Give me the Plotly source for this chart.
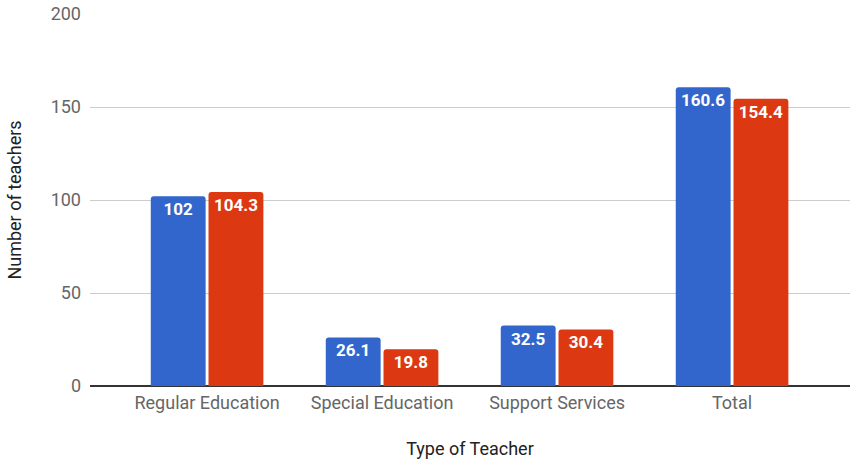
import plotly.graph_objects as go

categories = ["Regular Education", "Special Education", "Support Services", "Total"]
series_a = [102, 26.1, 32.5, 160.6]
series_b = [104.3, 19.8, 30.4, 154.4]
y_ticks = [0, 50, 100, 150, 200]

fig = go.Figure()
for vals, color in [(series_a, "#3366cc"), (series_b, "#dc3912")]:
    fig.add_trace(go.Bar(
        x=categories, y=vals, marker=dict(color=color, line=dict(width=0)),
        text=[f"{v:g}" for v in vals], textposition="inside", insidetextanchor="end",
        textangle=0, textfont=dict(color="white", size=17, family="Roboto", weight="bold"),
        cliponaxis=False, showlegend=False,
    ))

fig.update_layout(
    width=854, height=459,
    margin=dict(l=90, r=4, t=14, b=73),
    paper_bgcolor="white", plot_bgcolor="white",
    barmode="group", bargap=0.34, bargroupgap=0.05, barcornerradius=3,
    font=dict(family="Roboto", color="#444"),
    xaxis=dict(
        range=[-0.669, 3.674], showgrid=False, ticks="", showline=False, automargin=False,
        tickfont=dict(size=18, color="#666"), ticklabelstandoff=4,
        title=dict(text="Type of Teacher", font=dict(size=18, color="#222"), standoff=31),
    ),
    yaxis=dict(
        range=[0, 200], tickvals=y_ticks, showgrid=True, gridcolor="#cccccc", gridwidth=1,
        zeroline=True, zerolinecolor="#333333", zerolinewidth=1.5, ticks="", showline=False,
        automargin=False,
        tickfont=dict(size=18, color="#666"), ticklabelstandoff=8,
        title=dict(text="Number of teachers", font=dict(size=18, color="#222"), standoff=24),
    ),
)

fig.write_html("out.html")
